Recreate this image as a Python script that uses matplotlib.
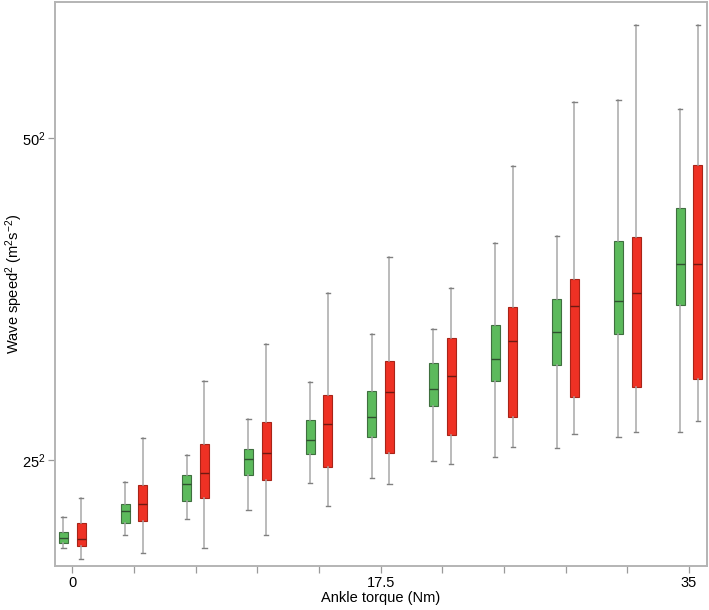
import matplotlib
matplotlib.use('Agg')
import matplotlib.pyplot as plt
import numpy as np

# ankle torque levels (Nm)
torque = [0, 3.5, 7, 10.5, 14, 17.5, 21, 24.5, 28, 31.5, 35]

# wave speed^2 (m^2 s^-2) box stats
# green series
g_lo  = [110, 188, 283, 334, 491, 520, 621, 643, 695, 757, 790]
g_q1  = [143, 258, 386, 539, 662, 761, 942, 1087, 1177, 1358, 1529]
g_med = [169, 326, 483, 633, 740, 876, 1039, 1214, 1369, 1550, 1766]
g_q3  = [205, 370, 538, 687, 860, 1026, 1189, 1414, 1565, 1903, 2092]
g_hi  = [295, 495, 652, 864, 1078, 1360, 1387, 1892, 1932, 2722, 2671]
# red series
r_lo  = [48, 85, 110, 188, 357, 487, 600, 703, 777, 787, 852]
r_q1  = [126, 271, 405, 510, 586, 668, 769, 874, 994, 1049, 1095]
r_med = [163, 369, 548, 666, 833, 1020, 1113, 1319, 1524, 1597, 1766]
r_q3  = [260, 478, 718, 848, 1006, 1202, 1336, 1517, 1680, 1925, 2346]
r_hi  = [405, 755, 1087, 1299, 1598, 1807, 1629, 2341, 2710, 3162, 3159]

ytick_vals = [625, 2500]
ytick_labels = ['$25^2$', '$50^2$']
xtick_labels = ['0', '', '', '', '', '17.5', '', '', '', '', '35']

plt.rcParams['font.family'] = 'Liberation Sans'
plt.rcParams['mathtext.fontset'] = 'custom'
plt.rcParams['mathtext.rm'] = 'Liberation Sans'
plt.rcParams['mathtext.it'] = 'Liberation Sans:italic'
plt.rcParams['font.size'] = 10.5

fig = plt.figure(figsize=(7.09, 6.10), dpi=100)
ax = fig.add_axes([0.0776, 0.0721, 0.919, 0.9246])


def stats(lo, q1, med, q3, hi):
    return [dict(whislo=a, q1=b, med=c, q3=d, whishi=e, fliers=[])
            for a, b, c, d, e in zip(lo, q1, med, q3, hi)]


def draw(st, pos, face, edge, medc):
    ax.bxp(st, positions=pos, widths=0.52, capwidths=0.24, patch_artist=True,
           showfliers=False,
           boxprops=dict(facecolor=face, edgecolor=edge, lw=0.8),
           medianprops=dict(color=medc, lw=1.0),
           whiskerprops=dict(color='#a8a8a8', lw=1.1),
           capprops=dict(color='#808080', lw=1.0))


t = np.array(torque)
draw(stats(g_lo, g_q1, g_med, g_q3, g_hi), t - 0.5, '#5cba5c', '#3f6f3f', '#2f4f2f')
draw(stats(r_lo, r_q1, r_med, r_q3, r_hi), t + 0.5, '#ee3124', '#a82418', '#6e1a12')

ax.set_xlim(-0.98, 36.0)
ax.set_ylim(7, 3295)
ax.set_xticks(torque)
ax.set_xticklabels(xtick_labels)
ax.set_yticks(ytick_vals)
ax.set_yticklabels(ytick_labels)

for s in ax.spines.values():
    s.set_color('#b4b4b4')
    s.set_linewidth(1.4)
ax.tick_params(direction='out', length=5, width=0.9, color='#9a9a9a',
               labelsize=10.5)
ax.tick_params(axis='y', pad=1.5)
ax.tick_params(axis='x', pad=2)

ax.set_xlabel('Ankle torque (Nm)', fontsize=10.5, labelpad=1)
ax.set_ylabel('Wave speed$^2$ (m$^2$s$^{-2}$)', fontsize=10.5)
ax.yaxis.set_label_coords(-0.046, 0.5)

fig.savefig('out.png', dpi=100)
